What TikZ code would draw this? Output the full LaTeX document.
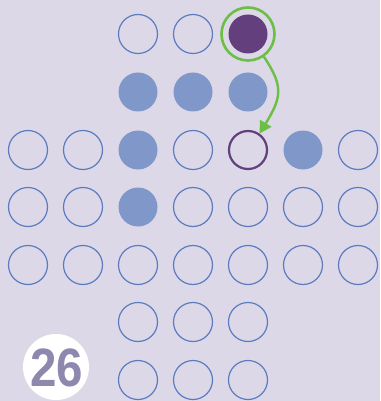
\documentclass[tikz,border=0pt]{standalone}
\usepackage{fontspec}
\setmainfont{Liberation Sans}
\usetikzlibrary{arrows.meta}
\definecolor{bgc}{HTML}{DCD8E7}
\definecolor{pegc}{HTML}{7F98C9}
\definecolor{holec}{HTML}{5B7BC0}
\definecolor{darkc}{HTML}{633F7D}
\definecolor{greenc}{HTML}{6BBF44}
\definecolor{badgec}{HTML}{8F88AE}
\tikzset{
  hole/.style={circle, draw=holec, line width=1.2pt, minimum size=39pt, inner sep=0pt},
  peg/.style={circle, fill=pegc, minimum size=39pt, inner sep=0pt},
  selpeg/.style={circle, fill=darkc, minimum size=39pt, inner sep=0pt},
  selring/.style={circle, draw=greenc, line width=2.6pt, minimum size=53pt, inner sep=0pt},
  target/.style={circle, draw=darkc, line width=2.2pt, minimum size=38pt, inner sep=0pt},
  movearrow/.style={draw=greenc, line width=2.4pt, -{Triangle[length=12pt,width=13pt]}},
}
\begin{document}
\begin{tikzpicture}[x=1pt,y=-1pt]
\fill[bgc] (0,0) rectangle (380,401);
\useasboundingbox (0,0) rectangle (380,401);
% row 1
\node[hole] (r1c3) at (138,34) {};
\node[hole] (r1c4) at (193,34) {};
\node[selring] (ring) at (248,34) {};
\node[selpeg] (r1c5) at (248,34) {};
% row 2
\node[peg] (r2c3) at (138,92) {};
\node[peg] (r2c4) at (193,92) {};
\node[peg] (r2c5) at (248,92) {};
% row 3
\node[hole] (r3c1) at (28,150) {};
\node[hole] (r3c2) at (83,150) {};
\node[peg] (r3c3) at (138,150) {};
\node[hole] (r3c4) at (193,150) {};
\node[target] (r3c5) at (248,150) {};
\node[peg] (r3c6) at (303,150) {};
\node[hole] (r3c7) at (358,150) {};
% row 4
\node[hole] (r4c1) at (28,207) {};
\node[hole] (r4c2) at (83,207) {};
\node[peg] (r4c3) at (138,207) {};
\node[hole] (r4c4) at (193,207) {};
\node[hole] (r4c5) at (248,207) {};
\node[hole] (r4c6) at (303,207) {};
\node[hole] (r4c7) at (358,207) {};
% row 5
\foreach \c/\x in {1/28,2/83,3/138,4/193,5/248,6/303,7/358}
  \node[hole] (r5c\c) at (\x,265) {};
% rows 6,7
\foreach \c/\x in {3/138,4/193,5/248}{
  \node[hole] (r6c\c) at (\x,322) {};
  \node[hole] (r7c\c) at (\x,380) {};
}
% move arrow
\draw[movearrow] (ring.-55) .. controls +(20,30) and +(22,-36) .. (r3c5.55);
% badge
\node[circle, fill=white, minimum size=66pt, inner sep=0pt] (badge) at (56,367) {};
\node[text=badgec, font=\bfseries\fontsize{54}{54}\selectfont, xscale=0.88, inner sep=0pt] (num) at (57,368) {26};
\end{tikzpicture}
\end{document}
